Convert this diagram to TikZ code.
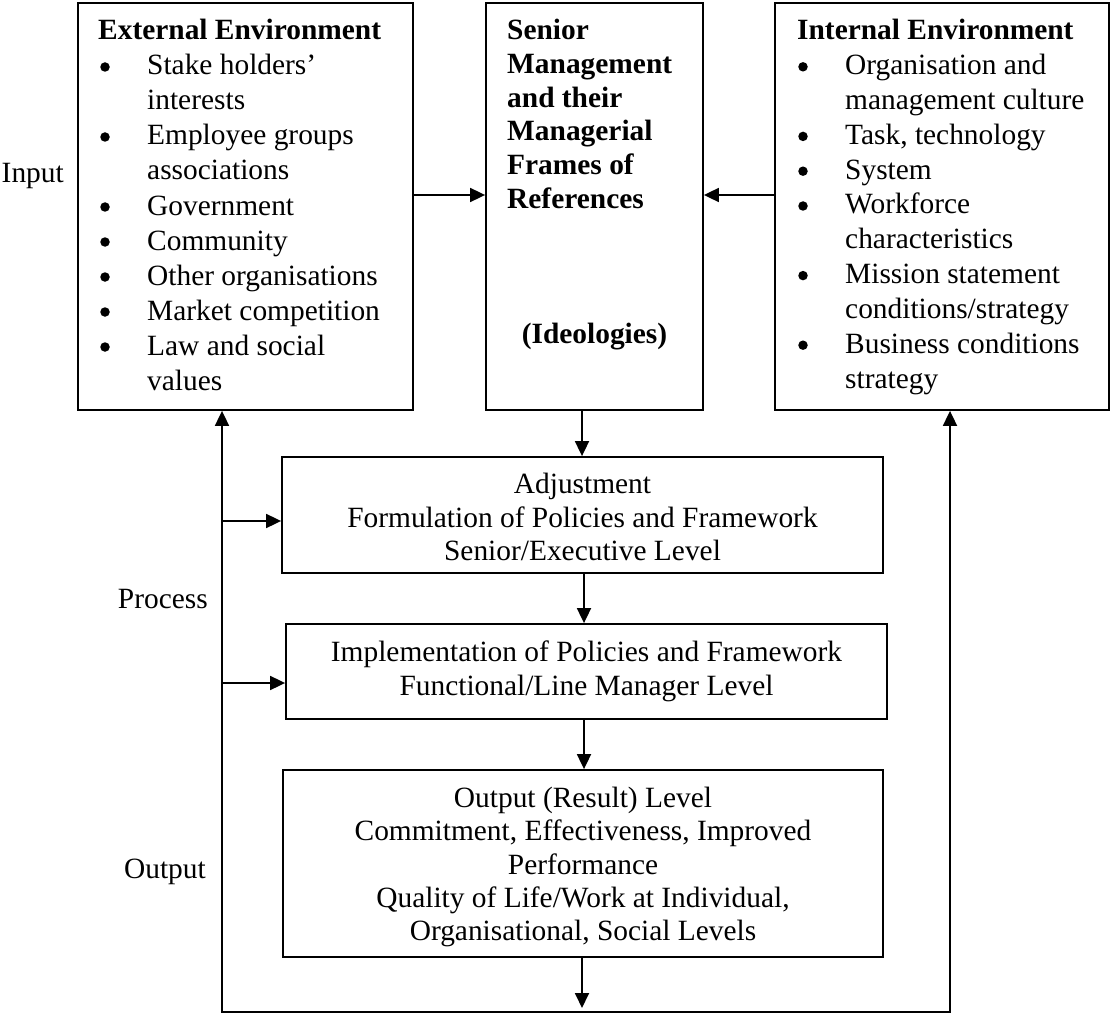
\documentclass[tikz,border=0pt]{standalone}
\usepackage{fontspec}
\setmainfont{Liberation Serif}
\usetikzlibrary{arrows.meta}
\begin{document}
\begin{tikzpicture}[x=1pt,y=-1pt,
  box/.style={draw,line width=1.8pt,inner sep=0pt},
  txt/.style={inner sep=0pt,anchor=base west,font=\fontsize{29.4pt}{35pt}\selectfont},
  btxt/.style={txt,font=\fontsize{29.4pt}{35pt}\selectfont\bfseries},
  ctxt/.style={txt,anchor=base},
  rtxt/.style={txt,anchor=base east},
  bul/.style={circle,fill=black,inner sep=0pt,minimum size=9.5pt},
  conn/.style={line width=1.8pt,-{Triangle[length=15pt,width=14pt]}},
  loopconn/.style={line width=1.8pt,{Triangle[length=15pt,width=14pt]}-{Triangle[length=15pt,width=14pt]}}]
\useasboundingbox (0,0) rectangle (1112,1014);
% boxes
\node[box,minimum width=335pt,minimum height=407pt] (ext) at (245.5,206.5) {};
\node[box,minimum width=217pt,minimum height=407pt] (sen) at (594.5,206.5) {};
\node[box,minimum width=334pt,minimum height=407pt] (int) at (942,206.5) {};
\node[box,minimum width=601pt,minimum height=116pt] (adj) at (582.5,515) {};
\node[box,minimum width=601pt,minimum height=95pt] (imp) at (586.5,671.5) {};
\node[box,minimum width=600pt,minimum height=187pt] (out) at (583,863.5) {};
% external text
\node[btxt] (e0) at (98,40) {External Environment};
\node[bul] (eb1) at (105,67) {};
\node[txt] (e1) at (147,75) {Stake holders’};
\node[txt] (e2) at (147,110) {interests};
\node[bul] (eb3) at (105,137) {};
\node[txt] (e3) at (147,145) {Employee groups};
\node[txt] (e4) at (147,180) {associations};
\node[bul] (eb5) at (105,207) {};
\node[txt] (e5) at (147,215) {Government};
\node[bul] (eb6) at (105,242) {};
\node[txt] (e6) at (147,250) {Community};
\node[bul] (eb7) at (105,277) {};
\node[txt] (e7) at (147,285) {Other organisations};
\node[bul] (eb8) at (105,312) {};
\node[txt] (e8) at (147,320) {Market competition};
\node[bul] (eb9) at (105,347) {};
\node[txt] (e9) at (147,355) {Law and social};
\node[txt] (e10) at (147,390) {values};
% senior text
\node[btxt] (s1) at (507,40) {Senior};
\node[btxt] (s2) at (507,73.6) {Management};
\node[btxt] (s3) at (507,107.2) {and their};
\node[btxt] (s4) at (507,140.8) {Managerial};
\node[btxt] (s5) at (507,174.4) {Frames of};
\node[btxt] (s6) at (507,208) {References};
\node[btxt,anchor=base] (s7) at (594.5,343) {(Ideologies)};
% internal text
\node[btxt] (i0) at (797,40) {Internal Environment};
\node[bul] (ib1) at (803,66.8) {};
\node[txt] (i1) at (845,74.8) {Organisation and};
\node[txt] (i2) at (845,109.6) {management culture};
\node[bul] (ib3) at (803,136.4) {};
\node[txt] (i3) at (845,144.4) {Task, technology};
\node[bul] (ib4) at (803,171.2) {};
\node[txt] (i4) at (845,179.2) {System};
\node[bul] (ib5) at (803,206) {};
\node[txt] (i5) at (845,214) {Workforce};
\node[txt] (i6) at (845,248.8) {characteristics};
\node[bul] (ib7) at (803,275.6) {};
\node[txt] (i7) at (845,283.6) {Mission statement};
\node[txt] (i8) at (845,318.4) {conditions/strategy};
\node[bul] (ib9) at (803,345.2) {};
\node[txt] (i9) at (845,353.2) {Business conditions};
\node[txt] (i10) at (845,388) {strategy};
% lower boxes text
\node[ctxt] (a1) at (582.5,493) {Adjustment};
\node[ctxt] (a2) at (582.5,527) {Formulation of Policies and Framework};
\node[ctxt] (a3) at (582.5,560) {Senior/Executive Level};
\node[ctxt] (m1) at (586.5,661) {Implementation of Policies and Framework};
\node[ctxt] (m2) at (586.5,695) {Functional/Line Manager Level};
\node[ctxt] (o1) at (583,807) {Output (Result) Level};
\node[ctxt] (o2) at (583,840) {Commitment, Effectiveness, Improved};
\node[ctxt] (o3) at (583,874) {Performance};
\node[ctxt] (o4) at (583,907) {Quality of Life/Work at Individual,};
\node[ctxt] (o5) at (583,940) {Organisational, Social Levels};
% side labels
\node[rtxt] (linput) at (64,183) {Input};
\node[rtxt] (lprocess) at (208,608) {Process};
\node[rtxt] (loutput) at (206,878) {Output};
% helper coordinates
\coordinate (y195) at (0,195);
\coordinate (ya) at (0,521);
\coordinate (yi) at (0,683);
\coordinate (x582) at (582,0);
\coordinate (x584) at (584,0);
\coordinate (bl) at (222,1012);
\coordinate (br) at (950,1012);
\coordinate (bm) at (582,1008);
% connectors
\draw[conn] (ext.east |- y195) -- (sen.west |- y195);
\draw[conn] (int.west |- y195) -- (sen.east |- y195);
\draw[conn] (sen.south -| x582) -- (adj.north -| x582);
\draw[conn] (adj.south -| x584) -- (imp.north -| x584);
\draw[conn] (imp.south -| x584) -- (out.north -| x584);
\draw[conn] (out.south -| x582) -- (bm);
\draw[loopconn] (bl |- ext.south) -- (bl) -- (br) -- (br |- int.south);
\draw[conn] (bl |- ya) -- (adj.west |- ya);
\draw[conn] (bl |- yi) -- (imp.west |- yi);
\end{tikzpicture}
\end{document}
